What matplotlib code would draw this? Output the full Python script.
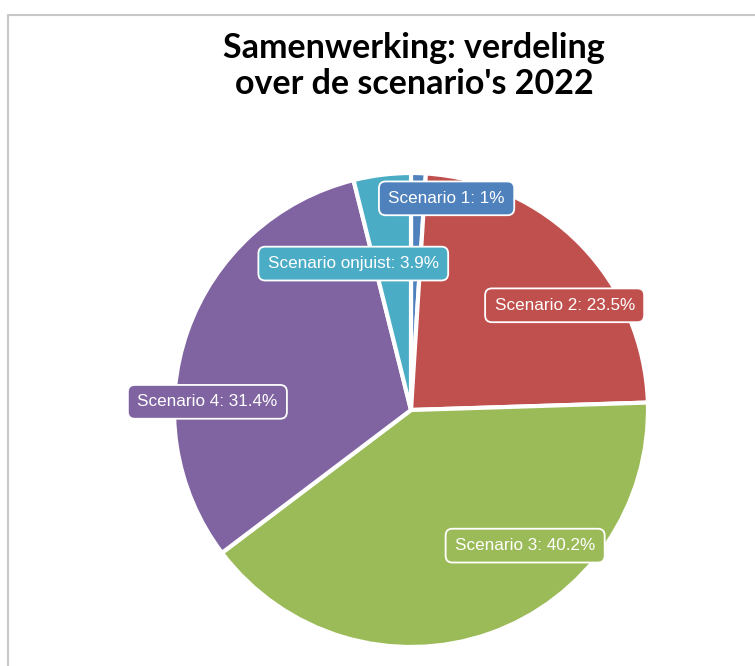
import matplotlib
matplotlib.use("Agg")
import matplotlib.pyplot as plt
import numpy as np
from matplotlib.patches import Rectangle

# data
labels = ["Scenario 1", "Scenario 2", "Scenario 3", "Scenario 4", "Scenario onjuist"]
values = [1.0, 23.5, 40.2, 31.4, 3.9]
colors = ["#4F81BD", "#C0504D", "#9BBB59", "#8064A2", "#4BACC6"]
title = "Samenwerking: verdeling\nover de scenario's 2022"

# label offsets from a point at 0.75 radius on each wedge's middle (pixels)
label_offsets = [(30, 34), (26, -19), (55, 32), (-36, -51), (-36, -30)]

W, H = 755, 666
fig = plt.figure(figsize=(W / 100, H / 100), dpi=100)
ax = fig.add_axes([0, 0, 1, 1])

cx, cy, r = 411, H - 410, 237
wedges, _ = ax.pie(values, colors=colors, startangle=90, counterclock=False,
                   center=(cx, cy), radius=r,
                   wedgeprops=dict(edgecolor="white", linewidth=3))
ax.set_xlim(0, W)
ax.set_ylim(0, H)
ax.set_aspect("equal")
ax.axis("off")

for w, lab, val, col, off in zip(wedges, labels, values, colors, label_offsets):
    mid = np.deg2rad((w.theta1 + w.theta2) / 2)
    ax_pt = (cx + 0.75 * r * np.cos(mid), cy + 0.75 * r * np.sin(mid))
    txt = f"{lab}: {val:g}%"
    ax.annotate(txt, xy=ax_pt, xytext=off, textcoords="offset pixels",
                ha="center", va="center", color="white", fontsize=12.3,
                family="Liberation Sans",
                bbox=dict(boxstyle="round,pad=0.55,rounding_size=0.4",
                          fc=col, ec="white", lw=1.3))

fig.text(414 / W, 1 - 66 / H, title, ha="center", va="center",
         fontsize=24.5, fontweight="bold", family="Lato", linespacing=1.12)

# outer frame
fig.patches.append(Rectangle((8 / W, -0.1), 1.2, (H - 15) / H + 0.1,
                             transform=fig.transFigure, fill=False,
                             ec="#c8c8c8", lw=1.5))

fig.savefig("out.png", dpi=100)
